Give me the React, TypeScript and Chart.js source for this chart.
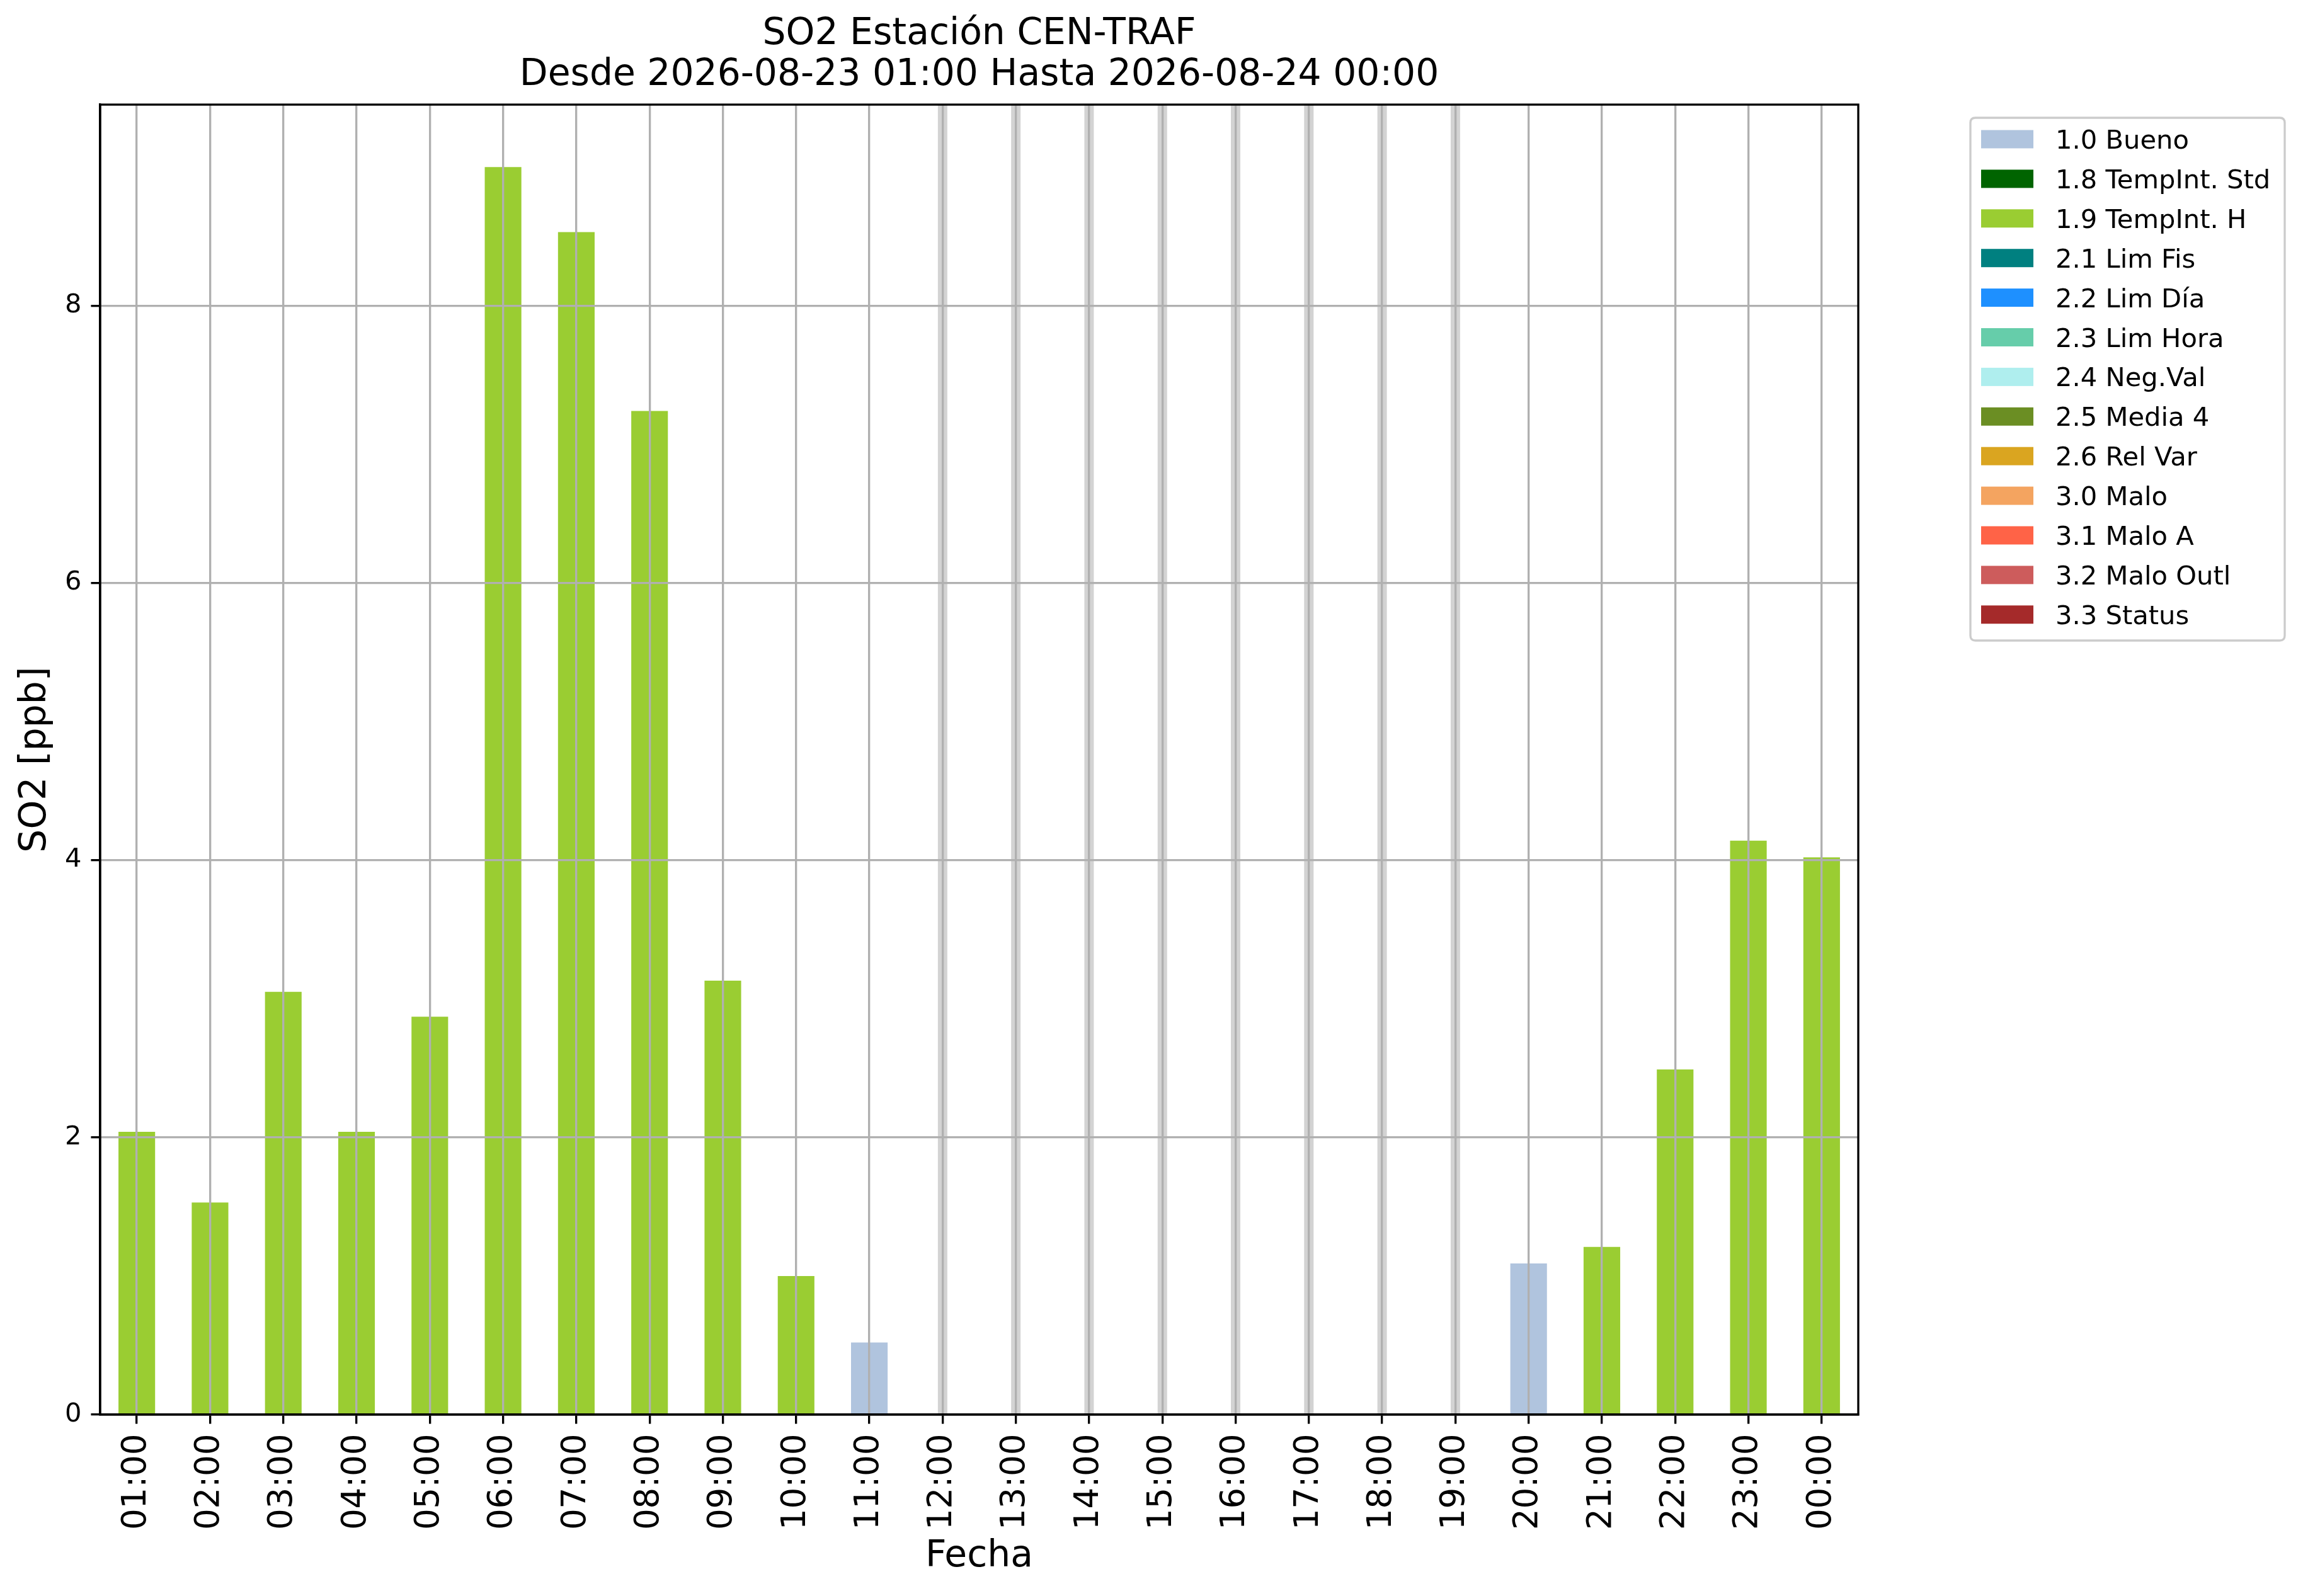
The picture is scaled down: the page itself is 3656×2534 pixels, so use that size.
import React, { useEffect, useRef } from 'react';
import { Chart, registerables } from 'chart.js';

Chart.register(...registerables);

const hours = [
  '01:00', '02:00', '03:00', '04:00', '05:00', '06:00', '07:00', '08:00',
  '09:00', '10:00', '11:00', '12:00', '13:00', '14:00', '15:00', '16:00',
  '17:00', '18:00', '19:00', '20:00', '21:00', '22:00', '23:00', '00:00',
];

const bueno = [
  null, null, null, null, null, null, null, null, null, null, 0.52, null,
  null, null, null, null, null, null, null, 1.09, null, null, null, null,
];

const tempIntH = [
  2.04, 1.53, 3.05, 2.04, 2.87, 9.0, 8.53, 7.24, 3.13, 1.0, null, null,
  null, null, null, null, null, null, null, null, 1.21, 2.49, 4.14, 4.02,
];

const missingHours = ['12:00', '13:00', '14:00', '15:00', '16:00', '17:00', '18:00', '19:00'];

const flagLabels = [
  '1.0 Bueno', '1.8 TempInt. Std', '1.9 TempInt. H', '2.1 Lim Fis', '2.2 Lim Día',
  '2.3 Lim Hora', '2.4 Neg.Val', '2.5 Media 4', '2.6 Rel Var', '3.0 Malo',
  '3.1 Malo A', '3.2 Malo Outl', '3.3 Status',
];

const flagColors = [
  '#B0C4DE', '#006400', '#9ACD32', '#008080', '#1E90FF', '#66CDAA', '#AFEEEE',
  '#6B8E23', '#DAA520', '#F4A460', '#FF6347', '#CD5C5C', '#A52A2A',
];

const yTicks = [0, 2, 4, 6, 8];
const yMax = 9.45;

const titleLines = ['SO2 Estación CEN-TRAF', 'Desde 2026-08-23 01:00 Hasta 2026-08-24 00:00'];

const FONT = 'DejaVu Sans';
const PT = 300 / 72;

const missingPlugin = {
  id: 'missingBands',
  beforeDatasetsDraw(chart: any) {
    const { ctx, chartArea, scales } = chart;
    const x = scales.x;
    ctx.save();
    ctx.fillStyle = '#d3d3d3';
    missingHours.forEach((h) => {
      const idx = hours.indexOf(h);
      const px = x.getPixelForValue(idx);
      ctx.fillRect(px - 7.5, chartArea.top, 15, chartArea.bottom - chartArea.top);
    });
    ctx.restore();
  },
};

const framePlugin = {
  id: 'frame',
  afterDraw(chart: any) {
    const { ctx, chartArea } = chart;
    ctx.save();
    ctx.strokeStyle = '#000';
    ctx.lineWidth = 0.8 * PT;
    ctx.strokeRect(chartArea.left, chartArea.top, chartArea.right - chartArea.left, chartArea.bottom - chartArea.top);
    ctx.restore();
  },
};

const legendPlugin = {
  id: 'mplLegend',
  afterDraw(chart: any) {
    const { ctx } = chart;
    const ds = chart.data.datasets;
    const x0 = 3128, y0 = 187, w = 499, h = 830, r = 8;
    ctx.save();
    ctx.beginPath();
    ctx.moveTo(x0 + r, y0);
    ctx.lineTo(x0 + w - r, y0);
    ctx.quadraticCurveTo(x0 + w, y0, x0 + w, y0 + r);
    ctx.lineTo(x0 + w, y0 + h - r);
    ctx.quadraticCurveTo(x0 + w, y0 + h, x0 + w - r, y0 + h);
    ctx.lineTo(x0 + r, y0 + h);
    ctx.quadraticCurveTo(x0, y0 + h, x0, y0 + h - r);
    ctx.lineTo(x0, y0 + r);
    ctx.quadraticCurveTo(x0, y0, x0 + r, y0);
    ctx.closePath();
    ctx.fillStyle = 'rgba(255,255,255,0.8)';
    ctx.fill();
    ctx.strokeStyle = '#cccccc';
    ctx.lineWidth = 0.8 * PT;
    ctx.stroke();
    ctx.font = `${10 * PT}px "${FONT}"`;
    ctx.textBaseline = 'alphabetic';
    ctx.textAlign = 'left';
    ds.forEach((d: any, i: number) => {
      const cy = 221 + i * 62.9;
      ctx.fillStyle = d.backgroundColor;
      ctx.fillRect(3145, cy - 14.5, 83, 29);
      ctx.fillStyle = '#000';
      ctx.fillText(d.label, 3263, cy + 15);
    });
    ctx.restore();
  },
};

export default function App() {
  const ref = useRef<HTMLCanvasElement | null>(null);

  useEffect(() => {
    if (!ref.current) return;
    Chart.defaults.font.family = FONT;
    Chart.defaults.color = '#000';
    const datasets = flagLabels.map((label, i) => ({
      label,
      data: label === '1.0 Bueno' ? bueno : label === '1.9 TempInt. H' ? tempIntH : hours.map(() => null),
      backgroundColor: flagColors[i],
      borderWidth: 0,
      stack: 'flags',
      barPercentage: 0.5,
      categoryPercentage: 1.0,
    }));

    const chart = new Chart(ref.current, {
      type: 'bar',
      data: { labels: hours, datasets: datasets as any },
      options: {
        animation: false,
        responsive: false,
        devicePixelRatio: 1,
        layout: { padding: { top: 22, right: 706, bottom: 0, left: 0 } },
        plugins: {
          legend: { display: false },
          tooltip: { enabled: false },
          title: {
            display: true,
            text: titleLines,
            color: '#000',
            fullSize: false,
            font: { family: FONT, size: 14 * PT, weight: 'normal', lineHeight: 1.115 },
            padding: { top: 0, bottom: 14 },
          },
        },
        scales: {
          x: {
            type: 'category',
            stacked: true,
            offset: true,
            grid: {
              z: 1,
              offset: false,
              color: '#b0b0b0',
              lineWidth: 0.8 * PT,
              tickLength: 3.5 * PT,
              tickColor: '#000',
              tickWidth: 0.8 * PT,
              drawTicks: true,
            },
            border: { z: 2, color: '#000', width: 0.8 * PT },
            ticks: {
              autoSkip: false,
              maxRotation: 90,
              minRotation: 90,
              padding: 16,
              color: '#000',
              font: { family: FONT, size: 12.7 * PT },
            },
            title: {
              display: true,
              text: 'Fecha',
              color: '#000',
              font: { family: FONT, size: 14 * PT },
              padding: { top: 0, bottom: 27 },
            },
            afterFit: (s: any) => { s.height = 288; },
          },
          y: {
            type: 'linear',
            stacked: true,
            min: 0,
            max: yMax,
            grid: {
              z: 1,
              color: '#b0b0b0',
              lineWidth: 0.8 * PT,
              tickLength: 3.5 * PT,
              tickColor: '#000',
              tickWidth: 0.8 * PT,
            },
            border: { z: 2, color: '#000', width: 0.8 * PT },
            ticks: {
              stepSize: 2,
              padding: 15,
              color: '#000',
              font: { family: FONT, size: 10 * PT },
            },
            afterBuildTicks: (s: any) => { s.ticks = yTicks.map((v) => ({ value: v })); },
            title: {
              display: true,
              text: 'SO2 [ppb]',
              color: '#000',
              font: { family: FONT, size: 14 * PT },
              padding: { top: 22, bottom: 0 },
            },
            afterFit: (s: any) => { s.width = 159; },
          },
        },
      },
      plugins: [missingPlugin, framePlugin, legendPlugin],
    });
    return () => chart.destroy();
  }, []);

  return (
    <div style={{ position: 'absolute', left: 0, top: 0, width: 3656, height: 2534, background: '#fff' }}>
      <canvas ref={ref} width={3656} height={2534} style={{ display: 'block', width: 3656, height: 2534 }} />
    </div>
  );
}
